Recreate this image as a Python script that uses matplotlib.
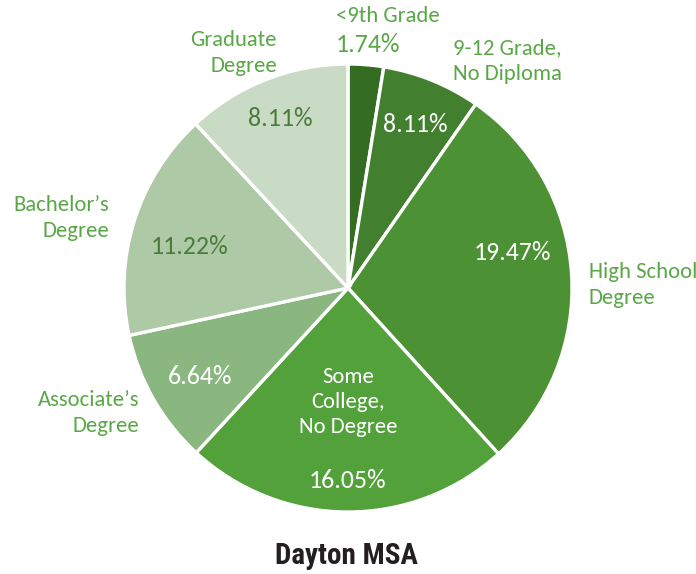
import matplotlib
matplotlib.use("Agg")
import matplotlib.pyplot as plt

categories = ["<9th Grade", "9-12 Grade,\nNo Diploma", "High School\nDegree",
              "Some\nCollege,\nNo Degree", "Associate\u2019s\nDegree",
              "Bachelor\u2019s\nDegree", "Graduate\nDegree"]
# slice sizes as drawn (the 9-12 slice is drawn smaller than its printed label)
values = [1.74, 4.84, 19.47, 16.05, 6.64, 11.22, 8.11]
pct_labels = ["1.74%", "8.11%", "19.47%", "16.05%", "6.64%", "11.22%", "8.11%"]
title = "Dayton MSA"

colors = ["#356C23", "#42802F", "#4D9135", "#53A13B", "#8AB680", "#ADC9A6", "#C9DAC5"]
label_green = "#5AA747"
dark_text = "#4A7B3A"

W, H = 696, 574
fig = plt.figure(figsize=(W / 100, H / 100), dpi=100)
ax = fig.add_axes([0, 0, 1, 1])

def py(y):
    return H - y

cx, cy, R = 348, 288, 224
ax.pie(values, colors=colors, startangle=90, counterclock=False,
       radius=R, center=(cx, py(cy)),
       wedgeprops=dict(edgecolor="white", linewidth=2.4))
ax.set_xlim(0, W)
ax.set_ylim(0, H)
ax.set_aspect("equal")
ax.axis("off")

fam = ["Carlito", "Lato", "DejaVu Sans"]
fs = 16.3
pfs = 18.6
ls = 1.33

outside = [
    (0, 336, 16, "left"),
    (1, 453, 61, "left"),
    (2, 589, 285, "left"),
    (6, 277, 53, "right"),
    (5, 109, 218, "right"),
    (4, 139, 413, "right"),
]
for i, x, y, ha in outside:
    ax.text(x, py(y), categories[i], ha=ha, va="center", color=label_green,
            fontsize=fs, family=fam, linespacing=ls)

pct_pos = [
    (0, 336, 45, "left", label_green),
    (1, 415, 124, "center", "white"),
    (2, 512, 252, "center", "white"),
    (3, 348, 481, "center", "white"),
    (4, 200, 376, "center", "white"),
    (5, 190, 247, "center", dark_text),
    (6, 280, 119, "center", dark_text),
]
for i, x, y, ha, c in pct_pos:
    ax.text(x, py(y), pct_labels[i], ha=ha, va="center", color=c,
            fontsize=pfs, family=fam)

ax.text(348, py(402), categories[3], ha="center", va="center", color="white",
        fontsize=fs, family=fam, linespacing=ls)

ax.text(346, py(556), title, ha="center", va="center", color="#231F20",
        fontsize=21, fontweight="bold",
        family=["Roboto Condensed", "Archivo Narrow", "DejaVu Sans"])

fig.savefig("out.png", dpi=100)
